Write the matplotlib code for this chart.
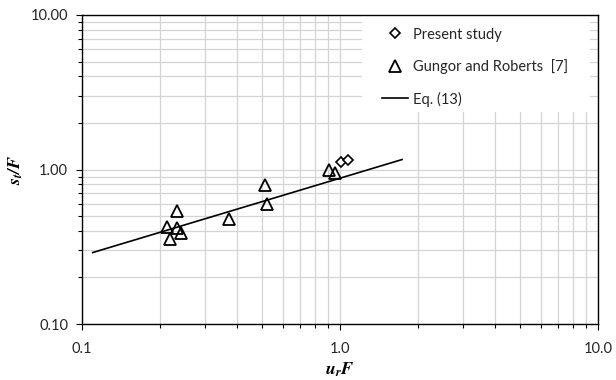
import matplotlib
matplotlib.use("Agg")
import matplotlib.pyplot as plt
from matplotlib.patches import Rectangle
from matplotlib.ticker import LogLocator, FixedFormatter, FixedLocator, NullFormatter

plt.rcParams['font.family'] = ['Lato', 'DejaVu Sans']
plt.rcParams['mathtext.fontset'] = 'stix'

# Present study
present_x = [1.01, 1.07]
present_y = [1.11, 1.15]

# Gungor and Roberts [7]
gungor_x = [0.233, 0.213, 0.233, 0.243, 0.220, 0.372, 0.511, 0.519, 0.906, 0.957]
gungor_y = [0.541, 0.426, 0.420, 0.386, 0.353, 0.478, 0.794, 0.598, 0.993, 0.944]

# Eq. (13) end points
eq_x = [0.11, 1.74]
eq_y = [0.29, 1.16]

x_ticks = [0.1, 1.0, 10.0]
x_tick_labels = ['0.1', '1.0', '10.0']
y_ticks = [0.1, 1.0, 10.0]
y_tick_labels = ['0.10', '1.00', '10.00']

fig = plt.figure(figsize=(6.16, 3.8), dpi=100)
ax = fig.add_axes([82 / 616, 1 - 324 / 380, 516 / 616, 309 / 380])
ax.set_xscale('log')
ax.set_yscale('log')
ax.set_xlim(0.1, 10)
ax.set_ylim(0.1, 10)

ax.xaxis.set_major_locator(FixedLocator(x_ticks))
ax.xaxis.set_major_formatter(FixedFormatter(x_tick_labels))
ax.yaxis.set_major_locator(FixedLocator(y_ticks))
ax.yaxis.set_major_formatter(FixedFormatter(y_tick_labels))
ax.xaxis.set_minor_locator(LogLocator(base=10, subs=range(2, 10)))
ax.yaxis.set_minor_locator(LogLocator(base=10, subs=range(2, 10)))
ax.xaxis.set_minor_formatter(NullFormatter())
ax.yaxis.set_minor_formatter(NullFormatter())

ax.grid(True, which='both', color='#d4d4d4', linewidth=0.9)
ax.set_axisbelow(True)

ax.tick_params(which='major', direction='out', length=4, width=0.8,
               labelsize=10.5, labelcolor='#262626', pad=6)
ax.tick_params(which='minor', direction='out', length=3, width=0.8)
ax.tick_params(axis='x', which='major', pad=9)
for s in ax.spines.values():
    s.set_color('black')
    s.set_linewidth(1.0)

# white panel behind the legend
ax.add_patch(Rectangle((0.543, 0.686), 0.441, 0.314, transform=ax.transAxes,
                       facecolor='white', edgecolor='none', zorder=1))

ax.plot(present_x, present_y, linestyle='none', marker='D', markersize=5,
        markerfacecolor='white', markeredgecolor='black', markeredgewidth=1.2,
        label='Present study', zorder=4)
ax.plot(gungor_x, gungor_y, linestyle='none', marker='^', markersize=8.5,
        markerfacecolor='none', markeredgecolor='black', markeredgewidth=1.3,
        label='Gungor and Roberts  [7]', zorder=4)
ax.plot(eq_x, eq_y, color='black', linewidth=1.2, label='Eq. (13)', zorder=3)

leg = ax.legend(loc='upper left', bbox_to_anchor=(0.559, 0.997), frameon=False,
                fontsize=10.5, handlelength=1.8, handletextpad=0.3,
                labelspacing=1.2, borderpad=0.3)
for t in leg.get_texts():
    t.set_color('#262626')

ax.set_xlabel(r'$\mathbfit{u_r F}$', fontsize=13, labelpad=3)
ax.set_ylabel(r'$\mathbfit{s_t/F}$', fontsize=13, labelpad=4)

fig.savefig('out.png', dpi=100)
